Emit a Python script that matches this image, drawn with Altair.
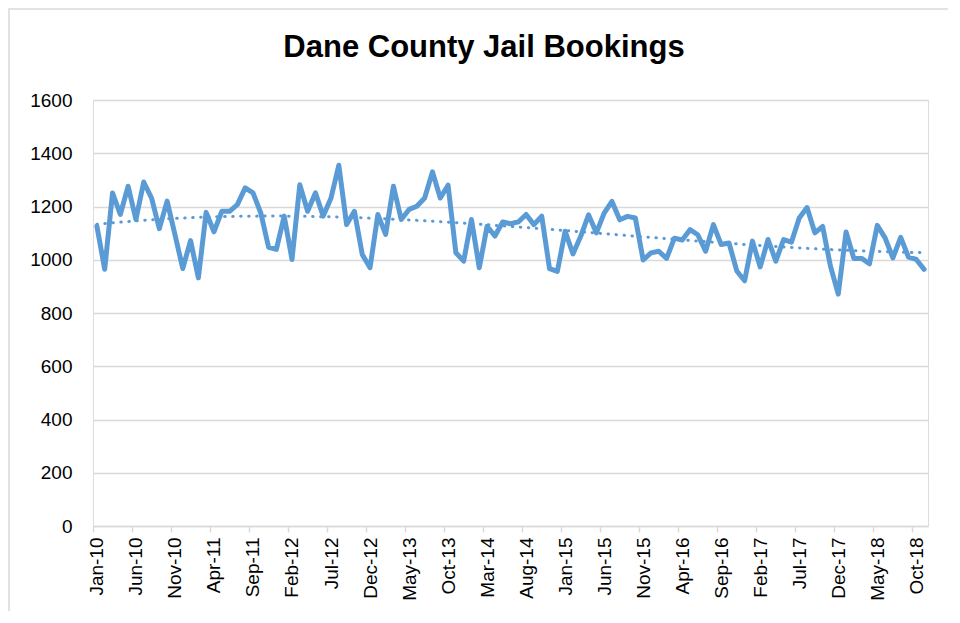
import altair as alt
import pandas as pd

tick_labels = ["Jan-10", "Jun-10", "Nov-10", "Apr-11", "Sep-11", "Feb-12", "Jul-12",
               "Dec-12", "May-13", "Oct-13", "Mar-14", "Aug-14", "Jan-15", "Jun-15",
               "Nov-15", "Apr-16", "Sep-16", "Feb-17", "Jul-17", "Dec-17", "May-18",
               "Oct-18"]

bookings = [1126, 964, 1251, 1170, 1276, 1151, 1292, 1232, 1117, 1220, 1095, 967,
            1072, 932, 1178, 1105, 1182, 1182, 1207, 1270, 1251, 1176, 1047, 1039,
            1164, 1001, 1282, 1182, 1251, 1164, 1232, 1355, 1132, 1182, 1020, 970,
            1170, 1095, 1276, 1151, 1189, 1201, 1232, 1330, 1232, 1280, 1026, 995,
            1151, 970, 1126, 1089, 1142, 1135, 1142, 1170, 1132, 1164, 967, 956,
            1107, 1022, 1088, 1169, 1101, 1175, 1219, 1150, 1163, 1157, 999, 1026,
            1032, 1005, 1081, 1074, 1113, 1094, 1032, 1132, 1057, 1063, 958, 921,
            1070, 973, 1076, 995, 1076, 1066, 1157, 1196, 1101, 1125, 976, 871,
            1104, 1005, 1005, 985, 1129, 1082, 1007, 1084, 1010, 1001, 964]

title_text = "Dane County Jail Bookings"

n = len(bookings)
df = pd.DataFrame({"idx": list(range(n)), "value": bookings})

tick_vals = [5 * k - 0.5 for k in range(len(tick_labels))]
label_arr = "[" + ",".join("'%s'" % t for t in tick_labels) + "]"
label_expr = label_arr + "[round((datum.value + 0.5) / 5)]"

FONT = "Liberation Sans"
BLUE = "#5B9BD5"

x_enc = alt.X("idx:Q",
              scale=alt.Scale(domain=[-0.5, n - 0.5], nice=False, zero=False),
              axis=alt.Axis(values=tick_vals, tickCount=40, labelExpr=label_expr,
                            labelAngle=-90, labelOffset=3.9, tickSize=6,
                            tickColor="#D9D9D9", tickWidth=1.5,
                            domainColor="#D9D9D9", domainWidth=1.5,
                            grid=False, labelPadding=5, labelFontSize=19,
                            labelColor="black", labelFont=FONT, title=None,
                            labelOverlap=False))
y_enc = alt.Y("value:Q",
              scale=alt.Scale(domain=[0, 1600], nice=False),
              axis=alt.Axis(values=list(range(0, 1601, 200)), format="d",
                            ticks=False, domain=False, grid=True,
                            gridColor="#D9D9D9", gridWidth=1.5, labelPadding=21,
                            labelFontSize=19, labelColor="black", labelFont=FONT,
                            title=None))

base = alt.Chart(df)

line = base.mark_line(color=BLUE, strokeWidth=5, strokeJoin="round",
                      strokeCap="round").encode(x=x_enc, y=y_enc)

trend = base.transform_regression("idx", "value", method="poly", order=3,
                                  extent=[0, n - 1]).mark_line(
    color=BLUE, strokeWidth=3, strokeDash=[0.5, 7.5], strokeCap="round"
).encode(x="idx:Q", y="value:Q")

one = alt.Data(values=[{"t": title_text}])

border = alt.Chart(one).mark_rect(
    filled=False, stroke="#D9D9D9", strokeWidth=1.5
).encode(x=alt.value(-84), x2=alt.value(858), y=alt.value(-91), y2=alt.value(515))

title = alt.Chart(one).mark_text(
    font=FONT, fontSize=31, fontWeight="bold", color="black",
    align="center", baseline="alphabetic"
).encode(text="t:N", x=alt.value(391), y=alt.value(-43))

chart = alt.layer(border, trend, line, title).properties(
    width=835, height=426,
    padding={"left": 85, "top": 92, "right": 20, "bottom": 85},
    autosize=alt.AutoSizeParams(type="none"),
).configure_view(stroke=None).configure(background="white")

chart.save("out.html", embed_options={"renderer": "svg", "actions": False})
